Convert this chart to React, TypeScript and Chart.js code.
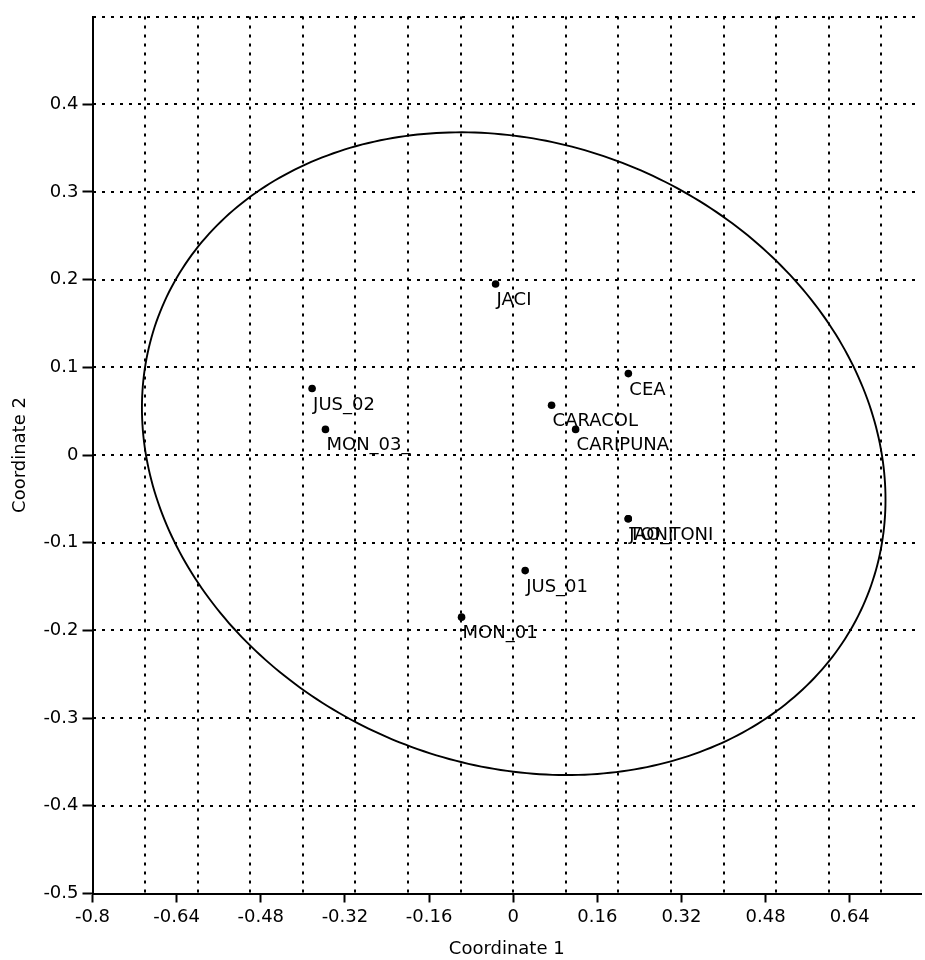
import { useEffect, useRef } from "react";
import { Chart, registerables } from "chart.js";

Chart.register(...registerables);

// ---- data ----
const siteNames = ["JACI", "CEA", "JUS_02", "MON_03_", "CARACOL", "CARIPUNA", "TONI", "JAO_TONI", "JUS_01", "MON_01"];
const coord1 = [-0.0335, 0.219, -0.3824, -0.357, 0.073, 0.1187, 0.2188, 0.2188, 0.0228, -0.0982];
const coord2 = [0.195, 0.0928, 0.0758, 0.0292, 0.0568, 0.0292, -0.0727, -0.0727, -0.1318, -0.1849];

// axis ticks
const xTickValues = [-0.8, -0.64, -0.48, -0.32, -0.16, 0, 0.16, 0.32, 0.48, 0.64];
const xGridValues = [-0.8, -0.7, -0.6, -0.5, -0.4, -0.3, -0.2, -0.1, 0, 0.1, 0.2, 0.3, 0.4, 0.5, 0.6, 0.7];
const yTickValues = [-0.5, -0.4, -0.3, -0.2, -0.1, 0, 0.1, 0.2, 0.3, 0.4];
const yGridValues = [-0.5, -0.4, -0.3, -0.2, -0.1, 0, 0.1, 0.2, 0.3, 0.4, 0.5];
const X_MIN = -0.8;
const X_MAX = 0.7755;
const Y_MIN = -0.5;
const Y_MAX = 0.5;

// 95% ellipse: center and Cholesky-like transform (data units)
const ellipseCenter = [0.001, 0.0015];
const ellipseL = [
  [0.707, 0],
  [-0.0523, 0.3627],
];

const fmt = (v: number) => String(Number(v.toFixed(2)));

const ellipsePlugin = {
  id: "ellipse95",
  afterDatasetsDraw(chart: any) {
    const { ctx } = chart;
    const xs = chart.scales.x;
    const ys = chart.scales.y;
    ctx.save();
    ctx.beginPath();
    for (let i = 0; i <= 360; i++) {
      const t = (i * Math.PI) / 180;
      const c = Math.cos(t);
      const s = Math.sin(t);
      const dx = ellipseCenter[0] + ellipseL[0][0] * c + ellipseL[0][1] * s;
      const dy = ellipseCenter[1] + ellipseL[1][0] * c + ellipseL[1][1] * s;
      const px = xs.getPixelForValue(dx);
      const py = ys.getPixelForValue(dy);
      if (i === 0) ctx.moveTo(px, py);
      else ctx.lineTo(px, py);
    }
    ctx.closePath();
    ctx.lineWidth = 1.9;
    ctx.strokeStyle = "#000";
    ctx.stroke();
    ctx.restore();
  },
};

const labelPlugin = {
  id: "pointLabels",
  afterDatasetsDraw(chart: any) {
    const { ctx } = chart;
    const meta = chart.getDatasetMeta(0);
    ctx.save();
    ctx.font = '18px "DejaVu Sans"';
    ctx.fillStyle = "#000";
    ctx.textAlign = "left";
    ctx.textBaseline = "alphabetic";
    meta.data.forEach((el: any, i: number) => {
      ctx.fillText(siteNames[i], el.x + 1, el.y + 21);
    });
    ctx.restore();
  },
};

const noPad = (s: any) => {
  s.paddingLeft = 0;
  s.paddingRight = 0;
  s.paddingTop = 0;
  s.paddingBottom = 0;
};

export default function App() {
  const ref = useRef<HTMLCanvasElement | null>(null);

  useEffect(() => {
    document.body.style.margin = "0";
    if (!ref.current) return;
    Chart.defaults.font.family = '"DejaVu Sans"';
    Chart.defaults.font.size = 18;
    Chart.defaults.color = "#000";

    const chart = new Chart(ref.current, {
      type: "scatter",
      data: {
        datasets: [
          {
            data: coord1.map((x, i) => ({ x, y: coord2[i] })),
            backgroundColor: "#000",
            borderWidth: 0,
            pointRadius: 3.8,
          },
        ],
      },
      options: {
        animation: false,
        responsive: false,
        events: [],
        layout: { padding: { top: 16.5, left: 0, right: 0, bottom: 0 } },
        plugins: { legend: { display: false }, tooltip: { enabled: false } },
        scales: {
          x: {
            type: "linear",
            position: "bottom",
            min: X_MIN,
            max: X_MAX,
            afterBuildTicks: (s: any) => {
              s.ticks = xTickValues.map((v) => ({ value: v }));
            },
            afterFit: (s: any) => {
              s.height = 66.5;
              noPad(s);
            },
            ticks: { callback: (v: any) => fmt(Number(v)), padding: 4, maxRotation: 0, autoSkip: false, color: "#000", font: { size: 18 } },
            grid: { drawOnChartArea: false, drawTicks: true, tickLength: 9, tickWidth: 2, tickColor: "#000", color: "#000" },
            border: { display: true, color: "#000", width: 2 },
            title: { display: true, text: "Coordinate 1", color: "#000", font: { size: 18 }, padding: { top: 0, bottom: 0 } },
          },
          xg: {
            type: "linear",
            position: "bottom",
            min: X_MIN,
            max: X_MAX,
            afterBuildTicks: (s: any) => {
              s.ticks = xGridValues.map((v) => ({ value: v }));
            },
            afterFit: (s: any) => {
              s.height = 0;
              noPad(s);
            },
            ticks: { display: false },
            grid: { drawOnChartArea: true, drawTicks: false, color: "#000", lineWidth: 2 },
            border: { display: false, dash: [3, 6] },
          },
          y: {
            type: "linear",
            position: "left",
            min: Y_MIN,
            max: Y_MAX,
            afterBuildTicks: (s: any) => {
              s.ticks = yTickValues.map((v) => ({ value: v }));
            },
            afterFit: (s: any) => {
              s.width = 92.5;
              noPad(s);
            },
            ticks: {
              callback: (v: any) => fmt(Number(v)),
              padding: 4,
              autoSkip: false,
              color: "#000",
              font: { size: 18 },
            },
            grid: {
              drawOnChartArea: false,
              drawTicks: true,
              tickLength: 10,
              tickWidth: 2,
              tickColor: "#000",
              color: "#000",
            },
            border: { display: true, color: "#000", width: 2 },
            title: { display: true, text: "Coordinate 2", color: "#000", font: { size: 18 }, padding: { top: 10, bottom: 0 } },
          },
          yg: {
            type: "linear",
            position: "left",
            min: Y_MIN,
            max: Y_MAX,
            afterBuildTicks: (s: any) => {
              s.ticks = yGridValues.map((v) => ({ value: v }));
            },
            afterFit: (s: any) => {
              s.width = 0;
              noPad(s);
            },
            ticks: { display: false },
            grid: { drawOnChartArea: true, drawTicks: false, color: "#000", lineWidth: 2 },
            border: { display: false, dash: [3, 6] },
          },
        },
      } as any,
      plugins: [ellipsePlugin, labelPlugin],
    });
    return () => chart.destroy();
  }, []);

  return (
    <div style={{ position: "absolute", left: 0, top: 0, width: 925, height: 960 }}>
      <canvas ref={ref} width={925} height={960} style={{ display: "block" }} />
    </div>
  );
}
